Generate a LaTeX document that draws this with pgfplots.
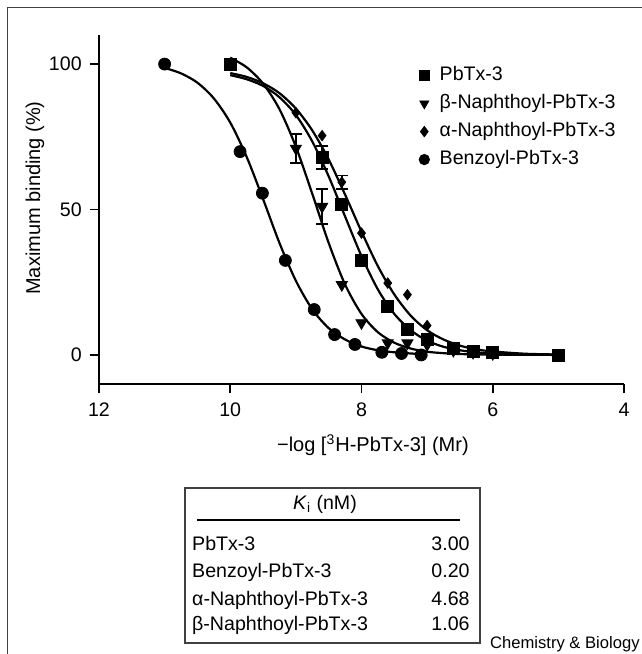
\documentclass[border=0pt]{standalone}
\usepackage{pgfplots}
\pgfplotsset{compat=1.18}
\usepackage{fontspec}
\setmainfont{Liberation Sans}
\begin{document}
\fontsize{9.8}{12}\selectfont
\begin{tikzpicture}
\useasboundingbox (0pt,0pt) rectangle (321pt,-327pt);
\draw[black!75, line width=0.6pt] (3.75pt,-327pt) -- (3.75pt,-3.75pt) -- (321pt,-3.75pt);
\begin{axis}[
  at={(49.5pt,-192pt)}, anchor=south west,
  scale only axis, width=262.5pt, height=174.5pt,
  x dir=reverse, xmin=4, xmax=12, ymin=-10, ymax=110,
  xtick={4,6,8,10,12}, ytick={0,50,100},
  axis line style={draw=none},
  tick align=outside, major tick length=4.5pt,
  tick style={black, line width=0.9pt},
  xtick pos=left, ytick pos=left,
  /pgf/number format/assume math mode=true,
  tick label style={font=\fontsize{9.8}{12}\selectfont},
  xticklabel style={yshift=-1.5pt},
  yticklabel style={xshift=-0.7pt},
  clip=false,
  xlabel={−log [\textsuperscript{3}H-PbTx-3] (Mr)},
  ylabel={Maximum binding (\%)},
  x label style={at={(axis description cs:0.5,0)}, anchor=center, yshift=-30.5pt, xshift=5.7pt, font=\fontsize{10}{12}\selectfont},
  y label style={at={(axis description cs:0,0.533)}, anchor=center, rotate=0, yshift=32pt, font=\fontsize{10}{12}\selectfont},
  reverse legend,
  legend cell align=left,
  legend style={at={(axis description cs:0.609,0.925)}, anchor=north west, draw=none, fill=none, inner sep=0pt,
    font=\fontsize{9.8}{12}\selectfont, row sep=0pt,
    nodes={inner sep=2.1pt, text height=7.35pt, text depth=2.45pt},
    /tikz/every odd column/.append style={column sep=3pt}},
  legend image code/.code={\draw[mark repeat=2,mark phase=2,mark size=2.6pt] plot coordinates {(0pt,0pt)(4pt,0pt)(8pt,0pt)};},
]
% axis lines
\draw[black, line width=1pt] (axis cs:12,-10) -- (axis cs:4,-10);
\draw[black, line width=1pt] (axis cs:12,-10) -- (axis cs:12,110);

% fitted curves
\addplot[black, line width=1.1pt, smooth, forget plot] coordinates {
(11.0,98.7)(10.75,96.8)(10.5,93.6)(10.25,88.2)(10.0,79.9)(9.75,68.1)(9.5,53.6)(9.25,38.5)(9.0,25.5)(8.75,15.7)(8.5,9.2)(8.25,5.3)(8.0,2.9)(7.75,1.6)(7.5,0.9)(7.25,0.5)(7.1,0.3)};
\addplot[black, line width=1.1pt, smooth, forget plot] coordinates {
(10.0,96.9)(9.75,95.6)(9.5,93.4)(9.25,90.0)(9.0,84.7)(8.75,77.2)(8.5,67.2)(8.25,55.1)(8.0,42.4)(7.75,30.5)(7.5,20.8)(7.25,13.5)(7.0,8.5)(6.75,5.3)(6.5,3.2)(6.25,1.9)(6.0,1.2)(5.5,0.4)(5.0,0.15)};
\addplot[black, line width=1.1pt, smooth, forget plot] coordinates {
(10.0,102.2)(9.75,98.9)(9.5,93.3)(9.25,84.5)(9.0,71.6)(8.75,55.4)(8.5,38.5)(8.25,24.2)(8.0,14.1)(7.75,7.8)(7.5,4.2)(7.25,2.2)(7.0,1.1)(6.75,0.6)(6.5,0.3)(6.0,0.1)(5.0,0.0)};
\addplot[black, line width=1.1pt, smooth, forget plot] coordinates {
(10.0,96.2)(9.75,94.8)(9.5,92.5)(9.25,88.6)(9.0,82.5)(8.75,73.4)(8.5,61.4)(8.25,47.6)(8.0,34.0)(7.75,22.5)(7.5,14.1)(7.25,8.5)(7.0,4.9)(6.75,2.8)(6.5,1.6)(6.25,0.9)(6.0,0.5)(5.5,0.2)(5.0,0.05)};

% data points
\addplot[only marks, mark=*, mark size=3pt, black] coordinates {
(11.0,100)(9.85,69.9)(9.51,55.6)(9.16,32.5)(8.72,15.6)(8.41,7.0)(8.10,3.6)(7.69,0.9)(7.39,0.5)(7.09,0.0)};
\addlegendentry{Benzoyl-PbTx-3}
\addplot[only marks, mark=diamond*, mark size=2.6pt, black,
  error bars/.cd, y dir=both, y explicit, error bar style={line width=0.9pt}, error mark options={rotate=90, mark size=3pt, line width=0.9pt}] coordinates {
(10.0,100)(9.0,83.3)(8.6,75.4)(8.3,59.4) +- (0,2.3)(8.0,41.9)(7.6,24.7)(7.3,20.7)(7.0,10.1)(6.6,2.5)(6.3,1.2)(6.0,0.6)(5.0,0.0)};
\addlegendentry{α-Naphthoyl-PbTx-3}
\addplot[only marks, mark=triangle*, mark options={rotate=180}, mark size=3.2pt, black,
  error bars/.cd, y dir=both, y explicit, error bar style={line width=0.9pt}, error mark options={rotate=90, mark size=3pt, line width=0.9pt}] coordinates {
(10.0,100)(9.0,71) +- (0,5)(8.6,51) +- (0,6)(8.3,24.1)(8.0,11.0)(7.6,4.1)(7.3,4.1)(7.0,3.5)(6.6,1.5)(6.3,0.8)(6.0,0.4)(5.0,0.0)};
\addlegendentry{β-Naphthoyl-PbTx-3}
\addplot[only marks, mark=square*, mark size=3pt, black,
  error bars/.cd, y dir=both, y explicit, error bar style={line width=0.9pt}, error mark options={rotate=90, mark size=3pt, line width=0.9pt}] coordinates {
(10.0,100)(8.6,67.9) +- (0,4)(8.3,51.6)(8.0,32.5)(7.6,16.7)(7.3,8.7)(7.0,5.3)(6.6,2.4)(6.3,1.2)(6.0,0.7)(5.0,0.0)};
\addlegendentry{PbTx-3}
\end{axis}

% K_i table
\draw[black!75, line width=0.6pt] (92.5pt,-244pt) rectangle (240pt,-321.5pt);
\node[anchor=base, inner sep=0pt] at (162.5pt,-254.5pt) {\textit{K}\textsubscript{i} (nM)};
\draw[black, line width=0.6pt] (98.5pt,-260pt) -- (230pt,-260pt);
\node[anchor=base west, inner sep=0pt] at (95.9pt,-275.2pt) {PbTx-3};
\node[anchor=base east, inner sep=0pt] at (235pt,-275.2pt) {3.00};
\node[anchor=base west, inner sep=0pt] at (95.9pt,-288.5pt) {Benzoyl-PbTx-3};
\node[anchor=base east, inner sep=0pt] at (235pt,-288.5pt) {0.20};
\node[anchor=base west, inner sep=0pt] at (95.9pt,-302.7pt) {α-Naphthoyl-PbTx-3};
\node[anchor=base east, inner sep=0pt] at (235pt,-302.7pt) {4.68};
\node[anchor=base west, inner sep=0pt] at (95.9pt,-315.2pt) {β-Naphthoyl-PbTx-3};
\node[anchor=base east, inner sep=0pt] at (235pt,-315.2pt) {1.06};
\node[anchor=base east, inner sep=0pt, font=\fontsize{8.3}{10}\selectfont] at (320pt,-324pt) {Chemistry \& Biology};
\end{tikzpicture}
\end{document}
